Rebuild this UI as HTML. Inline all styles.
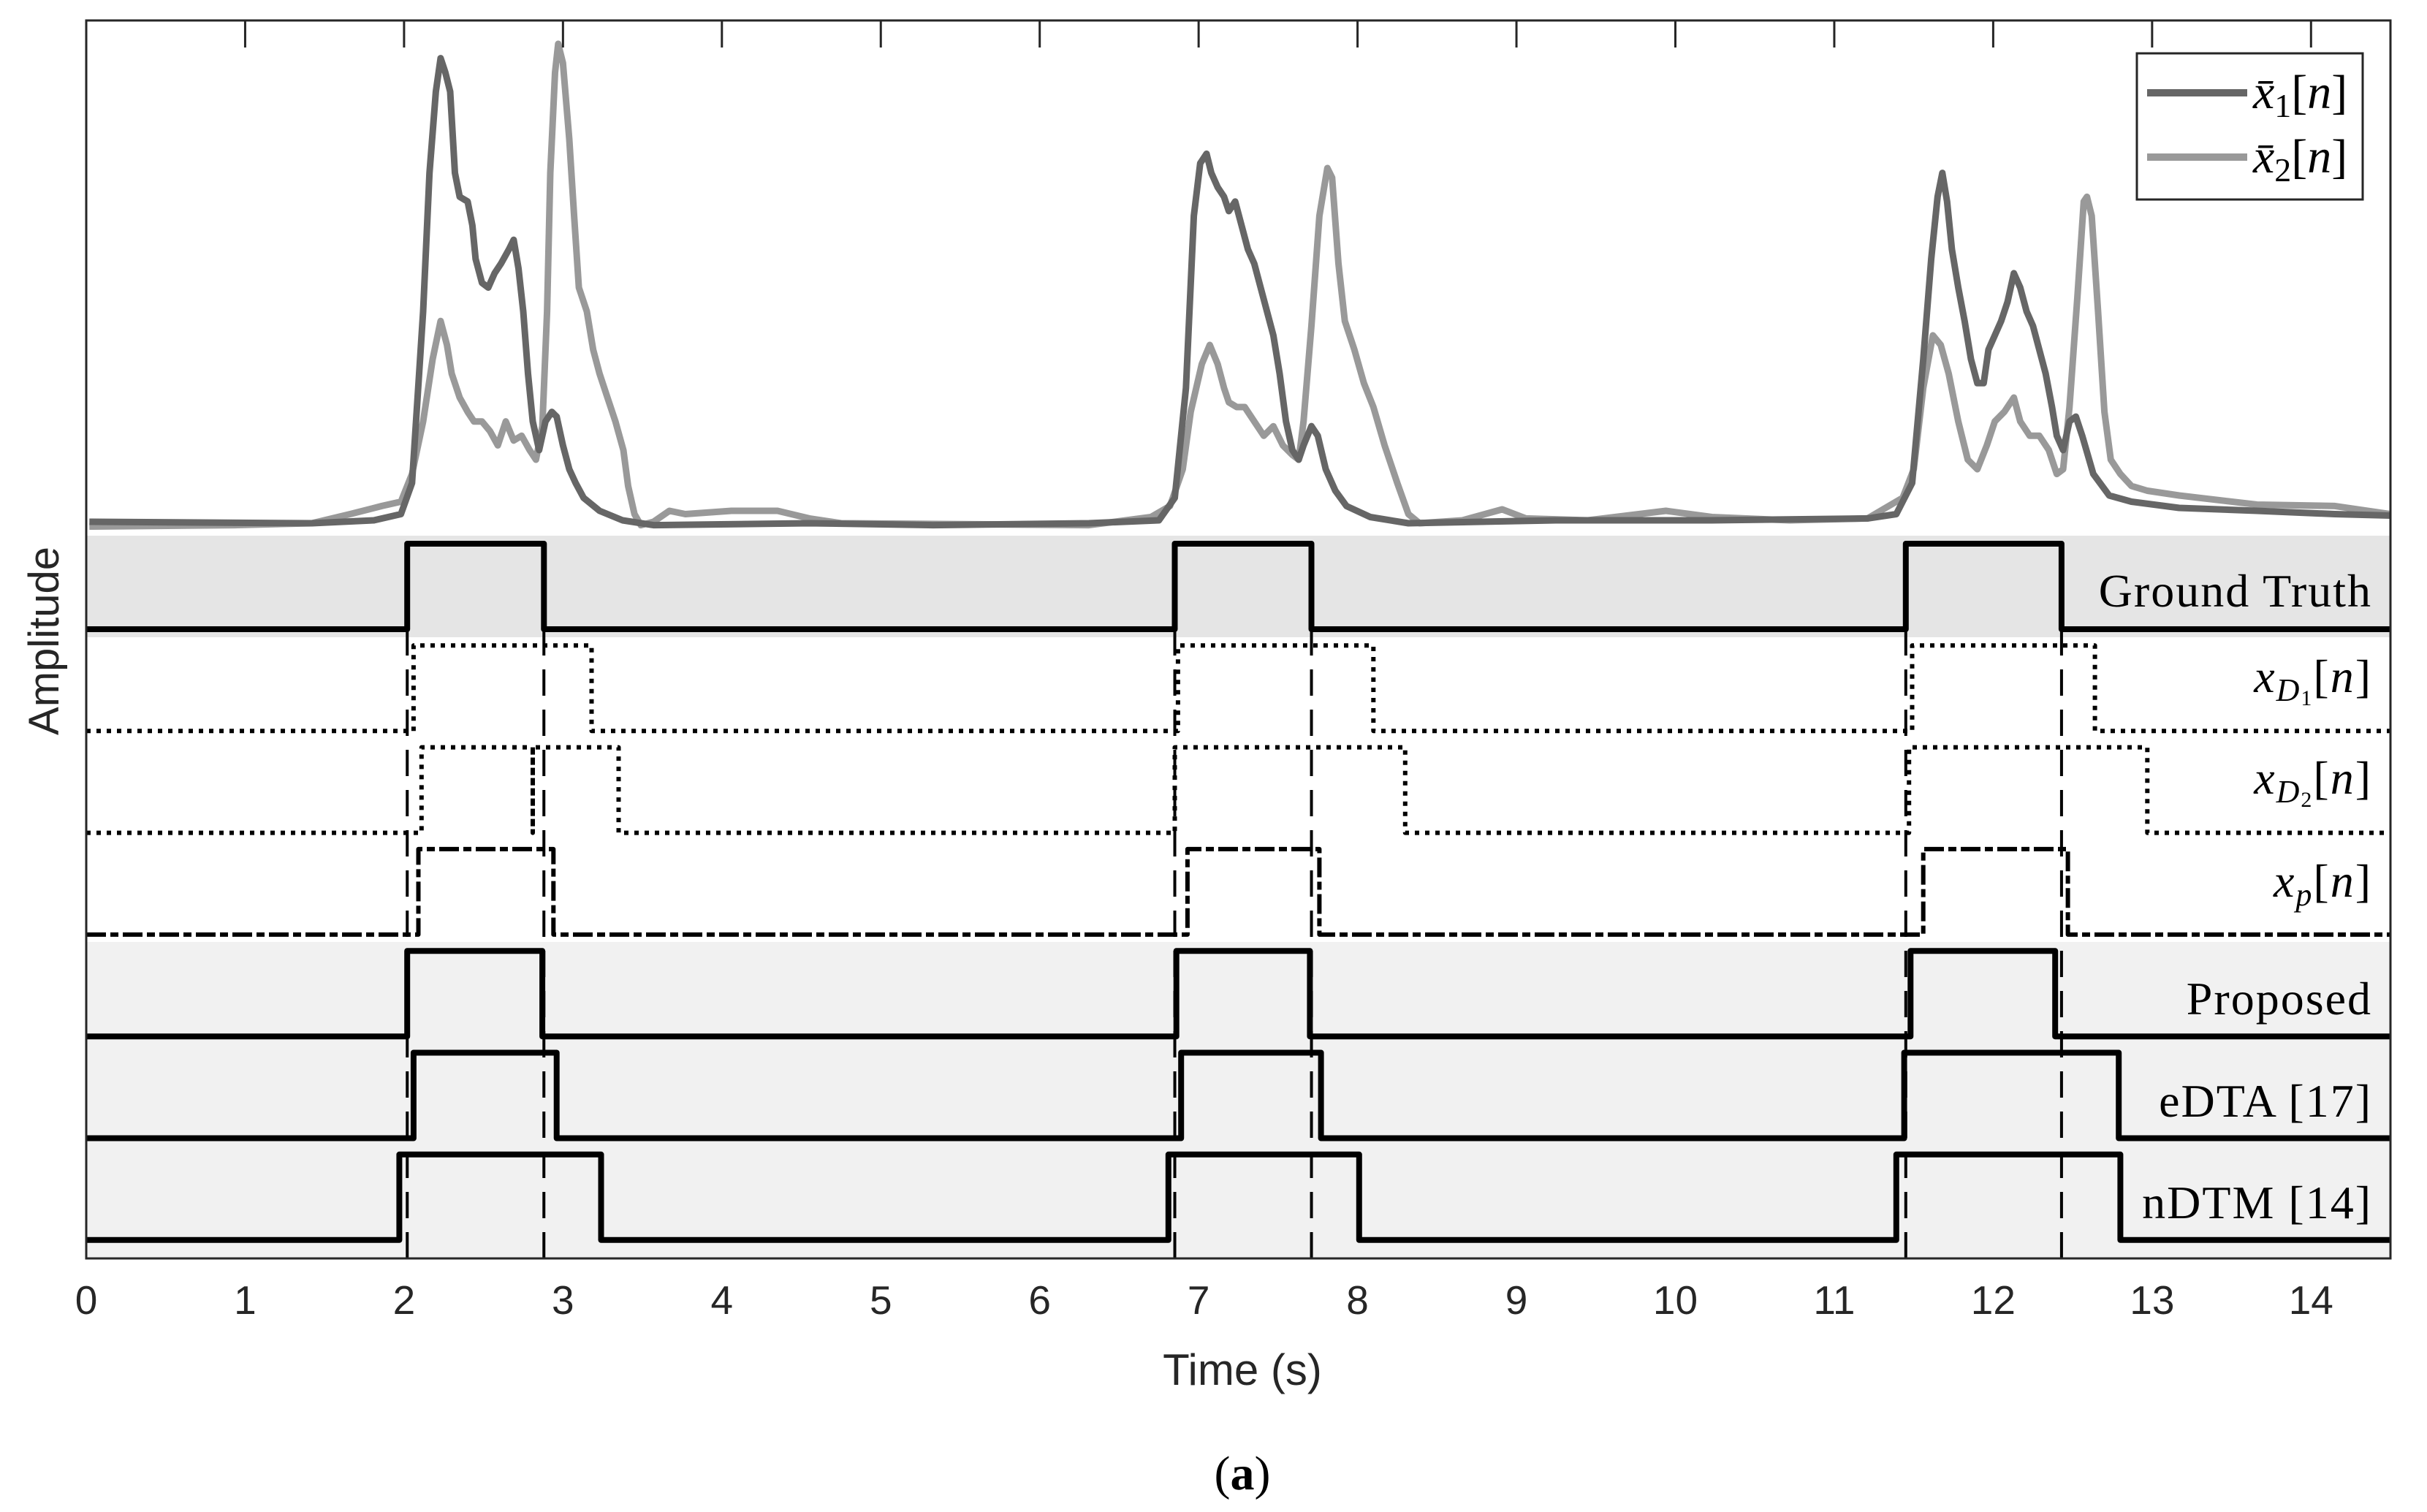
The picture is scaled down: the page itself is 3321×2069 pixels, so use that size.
<!DOCTYPE html>
<html><head><meta charset="utf-8"><style>
html,body{margin:0;padding:0;background:#fff;}
svg{display:block;}
</style></head><body>
<svg id="chart" xmlns="http://www.w3.org/2000/svg" width="3321" height="2069" viewBox="0 0 3321 2069">
<defs><clipPath id="topclip"><rect x="118" y="28" width="3153" height="705"/></clipPath></defs>
<rect x="118" y="733" width="3153" height="139" fill="#e5e5e5"/>
<rect x="118" y="1289" width="3153" height="433" fill="#f1f1f1"/>
<g id="series"></g>
<g id="axes"></g>
<g>
<rect x="2924" y="73" width="309" height="200" fill="#fff" stroke="#262626" stroke-width="3"/>
<line x1="2938" y1="127" x2="3075" y2="127" stroke="#666" stroke-width="10"/>
<line x1="2938" y1="215" x2="3075" y2="215" stroke="#999" stroke-width="10"/>
<text x="3083" y="148" font-family="Liberation Serif, serif" font-size="66" font-style="italic">x̄<tspan font-style="normal" font-size="46" dy="12">1</tspan><tspan font-style="normal" dy="-12">[</tspan>n<tspan font-style="normal">]</tspan></text>
<text x="3083" y="236" font-family="Liberation Serif, serif" font-size="66" font-style="italic">x̄<tspan font-style="normal" font-size="46" dy="12">2</tspan><tspan font-style="normal" dy="-12">[</tspan>n<tspan font-style="normal">]</tspan></text>
</g>
<g font-family="Liberation Serif, serif" font-size="64" text-anchor="end" fill="#000" letter-spacing="2">
<text x="3246" y="830">Ground Truth</text>
<text x="3246" y="947" font-style="italic">x<tspan font-size="44" dy="12">D</tspan><tspan font-size="30" font-style="normal" dy="6">1</tspan><tspan font-style="normal" dy="-18">[</tspan>n<tspan font-style="normal">]</tspan></text>
<text x="3246" y="1086" font-style="italic">x<tspan font-size="44" dy="12">D</tspan><tspan font-size="30" font-style="normal" dy="6">2</tspan><tspan font-style="normal" dy="-18">[</tspan>n<tspan font-style="normal">]</tspan></text>
<text x="3246" y="1227" font-style="italic">x<tspan font-size="44" dy="12">p</tspan><tspan font-style="normal" dy="-12">[</tspan>n<tspan font-style="normal">]</tspan></text>
<text x="3246" y="1388">Proposed</text>
<text x="3246" y="1528">eDTA [17]</text>
<text x="3246" y="1667">nDTM [14]</text>
</g>
<text x="1700" y="1895" font-family="Liberation Sans, sans-serif" font-size="60" fill="#262626" text-anchor="middle">Time (s)</text>
<text transform="translate(80,877) rotate(-90)" font-family="Liberation Sans, sans-serif" font-size="58" fill="#262626" text-anchor="middle">Amplitude</text>
<text x="1700" y="2038" font-family="Liberation Serif, serif" font-size="66" text-anchor="middle">(<tspan font-weight="bold">a</tspan>)</text>
</svg>
<script>
const x1Time=[0.02,1.42,1.81,1.98,2.05,2.12,2.16,2.20,2.23,2.26,2.29,2.32,2.35,2.40,2.43,2.45,2.49,2.53,2.57,2.61,2.66,2.69,2.72,2.75,2.78,2.81,2.85,2.89,2.93,2.96,3.00,3.04,3.08,3.13,3.23,3.375,3.57,
4.55,5.33,6.31,
6.75,6.85,6.92,6.97,7.01,7.05,7.08,7.12,7.16,7.19,7.23,7.27,7.31,7.35,7.39,7.43,7.47,7.51,7.55,7.59,7.63,7.66,7.71,7.75,7.80,7.86,7.93,8.08,8.32,
9.25,10.23,11.21,
11.39,11.49,11.56,11.61,11.65,11.68,11.71,11.74,11.78,11.82,11.86,11.90,11.94,11.97,12.01,12.05,12.09,12.13,12.17,12.21,12.25,12.29,12.33,12.37,12.40,12.44,12.48,12.52,12.56,12.63,12.73,12.87,13.17,13.66,14.15,14.5];
const x1Amp=[0,-0.3,0.3,1.6,8.1,44,73,90,97,94,90,73,68,67,62,55,50,49,52,54,57,59,53,44,31,21,15,21,23,22,16,11,8.1,5,2.3,0.3,-0.7,
-0.3,-0.7,-0.3,
0.3,5,28,64,75,77,73,70,68,65,67,62,57,54,49,44,39,31,21,15,13,16,20,18,11,6.5,3.3,1,-0.3,
0.3,0.3,0.7,
1.6,8.1,34,55,68,73,67,57,49,42,34,29,29,36,39,42,46,52,49,44,41,36,31,24,18,15,21,22,18,10,5.5,4.2,2.9,2.3,1.6,1.3];
const x2Time=[0.02,0.93,1.42,1.66,1.86,1.98,2.05,2.12,2.18,2.23,2.27,2.30,2.35,2.40,2.44,2.49,2.54,2.59,2.64,2.69,2.74,2.79,2.83,2.87,2.90,2.92,2.95,2.97,3.00,3.04,3.07,3.10,3.15,3.19,3.23,3.28,3.33,3.38,3.41,3.45,3.49,3.57,3.67,3.77,4.06,4.35,4.55,4.75,
6.31,6.70,6.82,6.90,6.95,7.02,7.07,7.12,7.16,7.19,7.24,7.29,7.35,7.41,7.47,7.53,7.59,7.63,7.66,7.71,7.76,7.81,7.84,7.88,7.92,7.98,8.04,8.10,8.17,8.25,8.32,8.39,8.66,8.91,9.06,9.45,9.94,10.23,10.72,11.21,
11.43,11.50,11.56,11.62,11.67,11.72,11.78,11.84,11.90,11.96,12.01,12.07,12.13,12.17,12.23,12.29,12.35,12.40,12.44,12.48,12.53,12.57,12.59,12.62,12.66,12.70,12.74,12.80,12.87,12.97,13.17,13.66,14.15,14.5];
const x2Amp=[-1,-0.7,-0.3,1.6,3.3,4.2,10,21,34,42,37,31,26,23,21,21,19,16,21,17,18,15,13,20,44,73,94,100,96,80,64,49,44,36,31,26,21,15,7.5,1.6,-0.7,0,2.3,1.6,2.3,2.3,0.7,-0.3,
-0.7,1,3.3,11,23,33,37,33,28,25,24,24,21,18,20,16,14,13,21,41,64,74,72,54,42,36,29,24,16,8.1,1.6,-0.3,0.3,2.6,0.7,0.3,2.3,1,0.3,0.7,
5,11,28,39,37,31,21,13,11,16,21,23,26,21,18,18,15,10,11,24,47,67,68,64,44,23,13,10,7.5,6.5,5.5,3.6,3.3,1.6];
const tickLabels=[0,1,2,3,4,5,6,7,8,9,10,11,12,13,14];
const rowNames=['ground-truth','xd1','xd2','xp','proposed','edta','ndtm'];
const rowRises=[[2.02,6.85,11.45],[2.06,6.87,11.49],[2.11,2.81,6.85,11.47],[2.09,6.93,11.56],[2.02,6.86,11.48],[2.06,6.89,11.44],[1.97,6.81,11.39]];
const rowFalls=[[2.88,7.71,12.43],[3.18,8.10,12.64],[2.81,3.35,8.30,12.97],[2.94,7.76,12.47],[2.87,7.70,12.39],[2.96,7.77,12.79],[3.24,8.01,12.80]];
const rowIndex=[0,1,2,3,4,5,6];

const NS='http://www.w3.org/2000/svg';
const X0=118,XS=217.45,TMAX=14.5;
function xs(t){return X0+XS*t;}
function ys(v){return 714-6.54*v;}
function rowLow(i){return 861+139.3*i;}
function rowHigh(i){return rowLow(i)-117;}
const series=document.getElementById('series');
const axes=document.getElementById('axes');
function mk(tag,attrs,parent){const e=document.createElementNS(NS,tag);for(const k in attrs)e.setAttribute(k,attrs[k]);parent.appendChild(e);return e;}

const tg=mk('g',{'clip-path':'url(#topclip)'},series);
function curve(ts,vs,color,name){
  const n=Math.min(ts.length,vs.length);let d='';
  for(let i=0;i<n;i++)d+=(i?'L':'M')+xs(ts[i]).toFixed(1)+' '+ys(vs[i]).toFixed(1);
  const p=mk('path',{d:d,fill:'none',stroke:color,'stroke-width':9,'stroke-linejoin':'round'},tg);
  
  
}
curve(x2Time,x2Amp,'#999','series-x2');
curve(x1Time,x1Amp,'#666','series-x1');

[rowRises[0],rowFalls[0]].forEach(arr=>arr.forEach(t=>{
  const l=mk('line',{x1:xs(t),y1:861,x2:xs(t),y2:1722,stroke:'#000','stroke-width':4,'stroke-dasharray':'36 19'},series);
  
  
}));

const styles=[{w:8,da:''},{w:6,da:'6 8'},{w:6,da:'6 8'},{w:6,da:'27 6 11 6'},{w:8,da:''},{w:8,da:''},{w:8,da:''}];
rowIndex.forEach(i=>{
  const lo=rowLow(i),hi=rowHigh(i);let d='M'+xs(0)+' '+lo;
  const r=rowRises[i],f=rowFalls[i];
  for(let k=0;k<r.length;k++){
    d+='L'+xs(r[k]).toFixed(1)+' '+lo+'L'+xs(r[k]).toFixed(1)+' '+hi+'L'+xs(f[k]).toFixed(1)+' '+hi+'L'+xs(f[k]).toFixed(1)+' '+lo;
  }
  d+='L'+xs(TMAX)+' '+lo;
  const a={d:d,fill:'none',stroke:'#000','stroke-width':styles[i].w,'stroke-linejoin':'round'};
  if(styles[i].da)a['stroke-dasharray']=styles[i].da;
  const p=mk('path',a,series);
  
  
});

const box=mk('path',{d:'M118 28L3271 28L3271 1722L118 1722Z',fill:'none',stroke:'#262626','stroke-width':3},axes);


tickLabels.forEach(t=>{
  const tk=mk('line',{x1:xs(t),y1:28,x2:xs(t),y2:65,stroke:'#262626','stroke-width':3},axes);
  
  
  const tx=mk('text',{x:xs(t),y:1798,'font-family':'Liberation Sans, sans-serif','font-size':55,fill:'#262626','text-anchor':'middle'},axes);
  tx.textContent=String(t);
  
  
});
</script>
</body></html>
